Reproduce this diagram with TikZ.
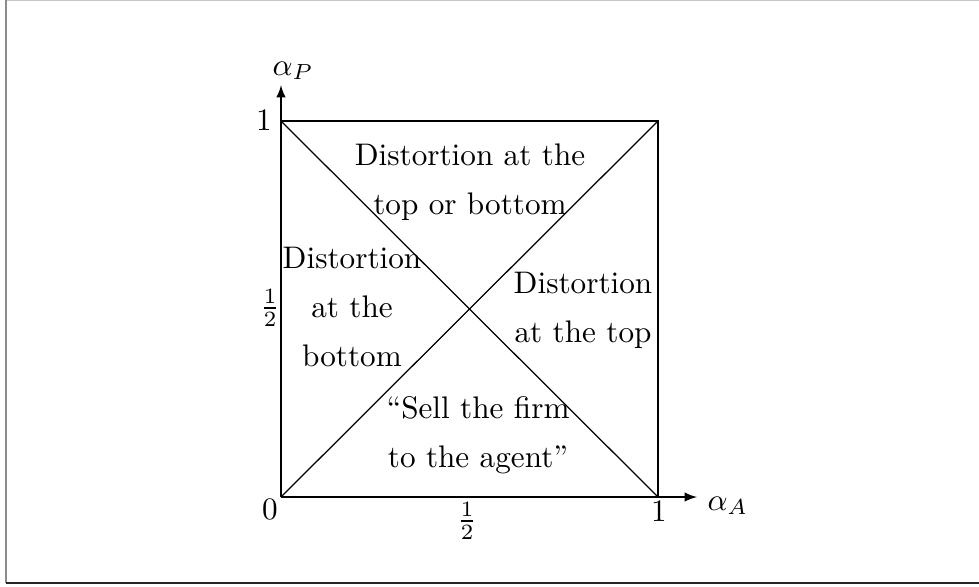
\documentclass[tikz,border=0pt]{standalone}
\usetikzlibrary{arrows}
\begin{document}
\begin{tikzpicture}[x=0.3205pt,y=-0.3205pt,
  region/.style={anchor=north,inner sep=0pt,align=center},
  lbl/.style={inner sep=0pt},
  axis/.style={-latex},
  edge/.style={draw=black}]
\useasboundingbox (0,0) rectangle (979,586);
% outer frame (screenshot border)
\draw[gray!45,line width=0.5pt] (6,0.6) -- (979,0.6);
\draw[gray!90,line width=0.7pt] (6,0) -- (6,583);
\draw[black!85,line width=0.5pt] (6,583) -- (979,583);
% corners
\coordinate (O) at (281,497);
\coordinate (A) at (658,497);
\coordinate (B) at (658,121);
\coordinate (C) at (281,121);
\coordinate (xend) at (697,497);
\coordinate (yend) at (281,85);
% axes
\draw[axis] (O) -- (xend);
\draw[axis] (O) -- (yend);
% square and diagonals
\draw[edge] (C) -- (B) -- (A);
\draw[edge] (O) -- (B);
\draw[edge] (C) -- (A);
% axis labels
\node[lbl,anchor=base west] (aP) at (272,75) {$\alpha_P$};
\node[lbl,anchor=base west] (aA) at (707,510) {$\alpha_A$};
\node[lbl] (l1) at (264,120) {1};
\node[lbl] (lh) at (270,308) {$\frac{1}{2}$};
\node[lbl] (l0) at (270,509) {0};
\node[lbl] (bh) at (467,521) {$\frac{1}{2}$};
\node[lbl] (b1) at (659,511) {1};
% regions
\node[region] (top) at (470,143.5) {Distortion at the\\[3.7pt]top or bottom};
\node[region] (left) at (352,246.7) {Distortion\\[3.7pt]at the\\[3.7pt]bottom};
\node[region] (right) at (583,271.7) {Distortion\\[3.7pt]at the top};
\node[region] (bottom) at (478,396.3) {``Sell the firm\\[3.7pt]to the agent''};
\end{tikzpicture}
\end{document}
